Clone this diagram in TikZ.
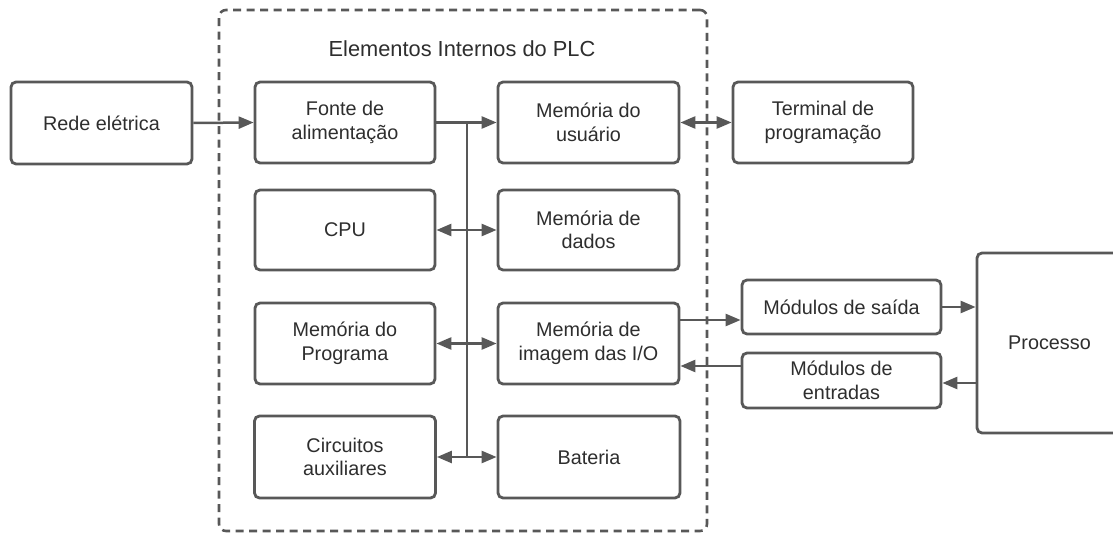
\documentclass[tikz,border=0pt]{standalone}
\usepackage{fontspec}
\setmainfont{Liberation Sans}
\usetikzlibrary{arrows.meta}
\definecolor{linegray}{HTML}{585858}
\definecolor{textgray}{HTML}{2E2E2E}
\tikzset{
  box/.style={draw=linegray, line width=2.8pt, rounded corners=5pt, fill=white,
    align=center, text=textgray, inner sep=0pt,
    font=\fontsize{19.8}{23.5}\selectfont},
  frame/.style={draw=linegray, line width=2.6pt, dash pattern=on 8pt off 5.5pt,
    rounded corners=7pt, inner sep=0pt},
  conn/.style={draw=linegray, line width=2.5pt},
  tip/.tip={Triangle[length=15pt,width=12pt]},
  arr/.style={conn, -tip},
  biarr/.style={conn, tip-tip},
}
\begin{document}
\begin{tikzpicture}[x=1pt,y=-1pt]
\clip (0,0) rectangle (1113,534);
\fill[white] (0,0) rectangle (1113,534);

% PLC enclosure and its heading
\node[frame, minimum width=488pt, minimum height=521pt] (plc) at (463,270.5) {};
\node[text=textgray, font=\fontsize{21.8}{26}\selectfont] (title) at (462,49) {Elementos Internos do PLC};

% external blocks
\node[box, minimum width=181pt, minimum height=82pt] (rede) at (101.5,123) {Rede elétrica};
\node[box, minimum width=180pt, minimum height=81pt] (term) at (823,122.5) {Terminal de\\programação};
\node[box, minimum width=199pt, minimum height=54pt] (said) at (841.5,307) {Módulos de saída};
\node[box, minimum width=199pt, minimum height=55pt] (entr) at (841.5,380.5) {Módulos de\\entradas};
\node[box, minimum width=145pt, minimum height=180pt] (proc) at (1049.5,343) {Processo};

% internal blocks, left column
\node[box, minimum width=180pt, minimum height=81pt] (fonte) at (345,122.5) {Fonte de\\alimentação};
\node[box, minimum width=180pt, minimum height=80pt] (cpu) at (345,230) {CPU};
\node[box, minimum width=180pt, minimum height=81pt] (prog) at (345,343.5) {Memória do\\Programa};
\node[box, minimum width=181pt, minimum height=82pt] (circ) at (345,457) {Circuitos\\auxiliares};

% internal blocks, right column
\node[box, minimum width=181pt, minimum height=81pt] (musr) at (588.5,122.5) {Memória do\\usuário};
\node[box, minimum width=181pt, minimum height=80pt] (mdad) at (588.5,230) {Memória de\\dados};
\node[box, minimum width=181pt, minimum height=81pt] (mimg) at (588.5,343.5) {Memória de\\imagem das I/O};
\node[box, minimum width=182pt, minimum height=82pt] (bat) at (589,457) {Bateria};

% internal bus
\coordinate (bustop) at (467,122.5);
\coordinate (busbot) at (467,457);
\draw[conn] (bustop) -- (busbot);

% connectors
\draw[arr] (rede.east) -- (fonte.west);
\draw[arr] (fonte.east) -- (musr.west);
\draw[biarr] (cpu.east) -- (mdad.west);
\draw[biarr] (prog.east) -- (mimg.west);
\draw[biarr] (circ.east) -- (bat.west);
\draw[biarr] (musr.east) -- (term.west);

\coordinate (outy) at (0,320);
\coordinate (iny) at (0,366);
\draw[arr] (mimg.east |- outy) -- (said.west |- outy);
\draw[arr] (entr.west |- iny) -- (mimg.east |- iny);
\draw[arr] (said.east) -- (proc.west |- said.east);
\coordinate (procy) at (0,383);
\draw[arr] (proc.west |- procy) -- (entr.east |- procy);
\end{tikzpicture}
\end{document}
